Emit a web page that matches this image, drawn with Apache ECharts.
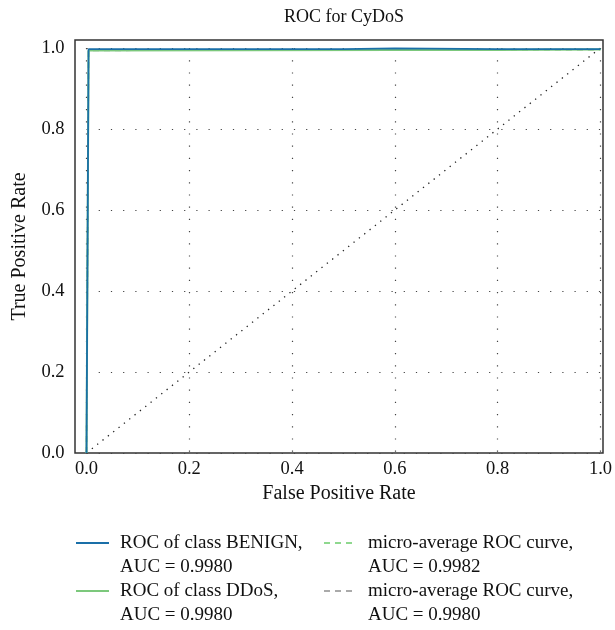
<!DOCTYPE html>
<html>
<head>
<meta charset="utf-8">
<script src="https://cdn.jsdelivr.net/npm/echarts@6/dist/echarts.min.js"></script>
<style>html,body{margin:0;padding:0;background:#fff;}#c{width:615px;height:630px;}</style>
</head>
<body>
<div id="c"></div>
<script>
const titleText = 'ROC for CyDoS';
const xName = 'False Positive Rate';
const yName = 'True Positive Rate';
const tickValues = [0, 0.2, 0.4, 0.6, 0.8, 1.0];

const benignFPR = [0.0, 0.0, 0.004, 0.5, 0.6, 0.8, 1.0];
const benignTPR = [0.0, 0.0, 0.997, 0.997, 0.999, 0.997, 0.997];
const ddosFPR = [0.0, 0.002, 0.004, 0.6, 0.8, 1.0];
const ddosTPR = [0.0, 0.0, 0.994, 0.995, 0.995, 0.996];
const microFPR = [0.0, 0.002, 0.004, 0.6, 0.8, 1.0];
const microTPR = [0.0, 0.0, 0.995, 0.996, 0.996, 0.996];
const macroFPR = [0.0, 0.002, 0.004, 0.6, 0.8, 1.0];
const macroTPR = [0.0, 0.0, 0.994, 0.995, 0.995, 0.996];
const chanceFPR = [0, 1];
const chanceTPR = [0, 1];

const legendNames = [
  'ROC of class BENIGN,\nAUC = 0.9980',
  'ROC of class DDoS,\nAUC = 0.9980',
  'micro-average ROC curve,\nAUC = 0.9982',
  'micro-average ROC curve, \nAUC = 0.9980'
];

function pairs(xs, ys) { return xs.map((x, i) => [x, ys[i]]); }

const FONT = '"Liberation Serif", "DejaVu Serif", serif';
const chart = echarts.init(document.getElementById('c'), null, {renderer: 'canvas'});

const dotted = {color: '#444', width: 1.2, type: [1.2, 11]};
const legendCommon = {
  orient: 'vertical', itemWidth: 33, itemHeight: 14, itemGap: -24, padding: 0,
  itemStyle: {opacity: 0, borderWidth: 0},
  formatter: n => '\n' + n,
  textStyle: {fontFamily: FONT, fontSize: 19, color: '#111', lineHeight: 24, padding: [0, 0, 0, 6]}
};

chart.setOption({
  animation: false,
  backgroundColor: '#fff',
  title: {
    text: titleText, left: 339, top: 3, textAlign: 'center',
    textStyle: {fontFamily: FONT, fontSize: 18, fontWeight: 'normal', color: '#111'}
  },
  grid: [
    {left: 75, right: 12, top: 40, bottom: 177, show: true, borderColor: '#333', borderWidth: 1.5, backgroundColor: 'transparent'},
    {left: 86.5, right: 12, top: 48, bottom: 177}
  ],
  xAxis: [
    {gridIndex: 0, type: 'value', min: 0, max: 1, show: true,
     name: xName, nameLocation: 'middle', nameGap: 31,
     nameTextStyle: {fontFamily: FONT, fontSize: 20, color: '#111'},
     axisLine: {show: false}, axisTick: {show: false}, axisLabel: {show: false}, splitLine: {show: false}},
    {gridIndex: 1, type: 'value', min: 0, max: 1, interval: 0.2,
     axisLine: {show: false}, axisTick: {show: false},
     axisLabel: {margin: 7, fontFamily: FONT, fontSize: 18.5, color: '#111', formatter: v => v.toFixed(1)},
     splitLine: {show: true, lineStyle: dotted}}
  ],
  yAxis: [
    {gridIndex: 0, type: 'value', min: 0, max: 1, show: true,
     name: yName, nameLocation: 'middle', nameGap: 45, nameRotate: 90,
     nameTextStyle: {fontFamily: FONT, fontSize: 20, color: '#111'},
     axisLine: {show: false}, axisTick: {show: false}, axisLabel: {show: false}, splitLine: {show: false}},
    {gridIndex: 1, type: 'value', min: 0, max: 1, interval: 0.2,
     axisLine: {show: false}, axisTick: {show: false},
     axisLabel: {margin: 22, fontFamily: FONT, fontSize: 18.5, color: '#111', formatter: v => v.toFixed(1)},
     splitLine: {show: true, lineStyle: dotted}}
  ],
  legend: [
    Object.assign({left: 75, top: 507, data: [legendNames[0], legendNames[1]]}, legendCommon),
    Object.assign({left: 323, top: 507, data: [legendNames[2], legendNames[3]]}, legendCommon)
  ],
  series: [
    {name: legendNames[3], type: 'line', xAxisIndex: 1, yAxisIndex: 1, showSymbol: false, symbol: 'none',
     data: pairs(macroFPR, macroTPR), lineStyle: {color: '#aaaaaa', width: 1.5, type: [6, 5]}, itemStyle: {color: '#aaaaaa'}},
    {name: legendNames[2], type: 'line', xAxisIndex: 1, yAxisIndex: 1, showSymbol: false, symbol: 'none',
     data: pairs(microFPR, microTPR), lineStyle: {color: '#8fd88f', width: 1.5, type: [6, 5]}, itemStyle: {color: '#8fd88f'}},
    {name: legendNames[1], type: 'line', xAxisIndex: 1, yAxisIndex: 1, showSymbol: false, symbol: 'none',
     data: pairs(ddosFPR, ddosTPR), lineStyle: {color: '#7cc87c', width: 2}, itemStyle: {color: '#7cc87c'}},
    {name: legendNames[0], type: 'line', xAxisIndex: 1, yAxisIndex: 1, showSymbol: false, symbol: 'none',
     data: pairs(benignFPR, benignTPR), lineStyle: {color: '#1a6fa8', width: 1.8}, itemStyle: {color: '#1a6fa8'}},
    {name: 'chance', type: 'line', xAxisIndex: 1, yAxisIndex: 1, showSymbol: false, symbol: 'none',
     data: pairs(chanceFPR, chanceTPR), lineStyle: {color: '#222', width: 1.3, type: [1.3, 5.5]}, z: 1}
  ]
});
</script>
</body>
</html>
